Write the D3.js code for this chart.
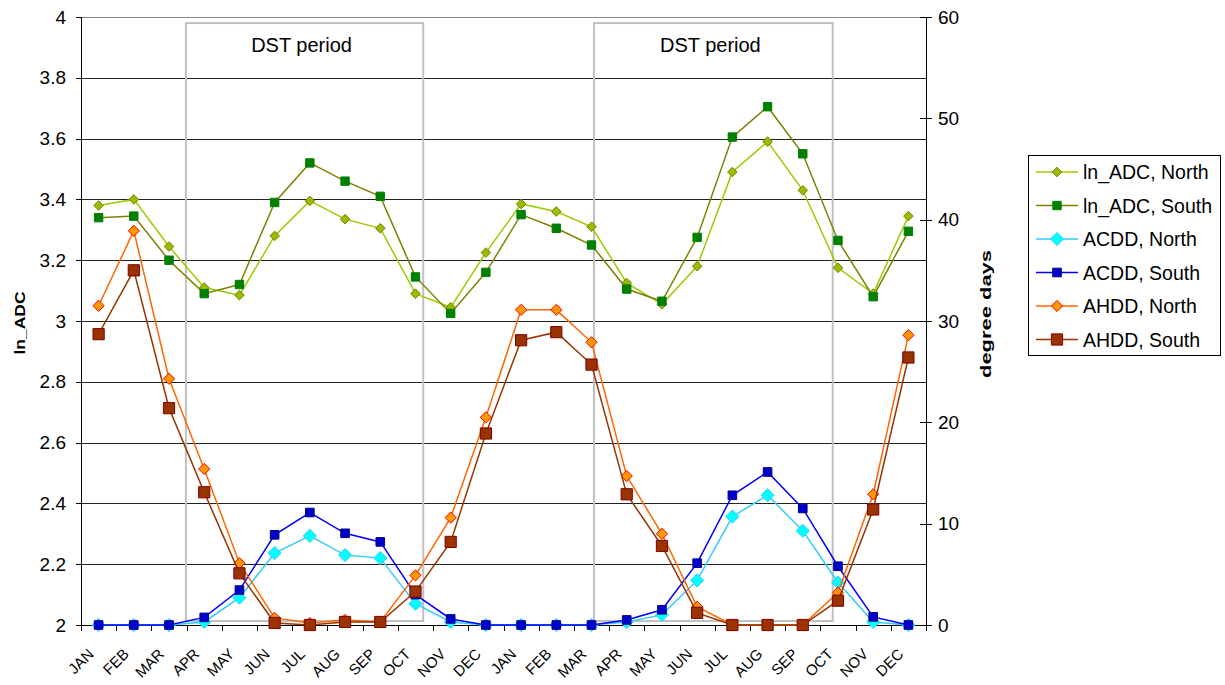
<!DOCTYPE html>
<html>
<head>
<meta charset="utf-8">
<title>ln_ADC and degree days</title>
<script src="https://cdn.jsdelivr.net/npm/d3@7"></script>
<style>
  html, body { margin: 0; padding: 0; background: #fff; }
  svg { display: block; font-family: "Liberation Sans", Arial, sans-serif; }
</style>
</head>
<body>
<div id="chart"></div>
<script>
'use strict';

// ─── Data ─────────────────────────────────────────────────────────────────────
const months = ['JAN', 'FEB', 'MAR', 'APR', 'MAY', 'JUN', 'JUL', 'AUG', 'SEP', 'OCT', 'NOV', 'DEC',
                'JAN', 'FEB', 'MAR', 'APR', 'MAY', 'JUN', 'JUL', 'AUG', 'SEP', 'OCT', 'NOV', 'DEC'];

const lnAdcNorth = [3.38, 3.40, 3.245, 3.11, 3.085, 3.28, 3.395, 3.335, 3.305, 3.09, 3.045, 3.225,
                    3.385, 3.36, 3.31, 3.125, 3.055, 3.18, 3.49, 3.59, 3.43, 3.175, 3.09, 3.345];
const lnAdcSouth = [3.34, 3.345, 3.20, 3.09, 3.12, 3.39, 3.52, 3.46, 3.41, 3.145, 3.025, 3.16,
                    3.35, 3.305, 3.25, 3.105, 3.065, 3.275, 3.605, 3.705, 3.55, 3.265, 3.08, 3.295];
const acddNorth  = [0, 0, 0, 0.3, 2.7, 7.1, 8.8, 6.9, 6.6, 2.1, 0.3, 0,
                    0, 0, 0, 0.3, 1.0, 4.4, 10.7, 12.8, 9.3, 4.2, 0.3, 0];
const acddSouth  = [0, 0, 0, 0.75, 3.45, 8.9, 11.1, 9.05, 8.2, 3.0, 0.6, 0,
                    0, 0, 0, 0.5, 1.5, 6.1, 12.8, 15.1, 11.5, 5.8, 0.8, 0];
const ahddNorth  = [31.5, 38.9, 24.3, 15.4, 6.1, 0.7, 0.2, 0.5, 0.3, 4.9, 10.6, 20.5,
                    31.1, 31.1, 27.9, 14.7, 9.0, 1.8, 0, 0, 0, 3.2, 12.9, 28.6];
const ahddSouth  = [28.7, 35.0, 21.4, 13.1, 5.1, 0.2, 0, 0.3, 0.3, 3.3, 8.2, 18.9,
                    28.1, 28.9, 25.7, 12.9, 7.8, 1.2, 0, 0, 0, 2.4, 11.4, 26.4];

const leftTicks  = [2, 2.2, 2.4, 2.6, 2.8, 3, 3.2, 3.4, 3.6, 3.8, 4];
const rightTicks = [0, 10, 20, 30, 40, 50, 60];

// DST boxes, in category units (hand-drawn shapes in the original)
const dstFrom = [2.98, 14.57];
const dstTo   = [9.72, 21.35];

// ─── Series styling ───────────────────────────────────────────────────────────
const SERIES = [
  { name: 'ln_ADC, North', values: lnAdcNorth, axis: 'L', line: '#99cc00', fill: '#99bb00', stroke: '#808000', shape: 'diamond', r: 4.8 },
  { name: 'ln_ADC, South', values: lnAdcSouth, axis: 'L', line: '#808000', fill: '#008000', stroke: '#008000', shape: 'square',  r: 4.2 },
  { name: 'ACDD, North',   values: acddNorth,  axis: 'R', line: '#33ccff', fill: '#00ffff', stroke: '#33ccff', shape: 'diamond', r: 6.6 },
  { name: 'ACDD, South',   values: acddSouth,  axis: 'R', line: '#0000ff', fill: '#0000cc', stroke: '#000080', shape: 'square',  r: 4.3 },
  { name: 'AHDD, North',   values: ahddNorth,  axis: 'R', line: '#ff6600', fill: '#ff9900', stroke: '#ff0000', shape: 'diamond', r: 5.6 },
  { name: 'AHDD, South',   values: ahddSouth,  axis: 'R', line: '#993300', fill: '#993300', stroke: '#800000', shape: 'square',  r: 5.6 },
];

// ─── Layout ───────────────────────────────────────────────────────────────────
const W = 1225, H = 685;
const PLOT = { left: 81, right: 926, top: 17, bottom: 625 };
const FONT = '"Liberation Sans", Arial, sans-serif';

const svg = d3.select('#chart').append('svg')
  .attr('width', W)
  .attr('height', H);

const idx = months.map((_, i) => i);
const x = d3.scaleBand().domain(idx).range([PLOT.left, PLOT.right]).padding(0);
const xUnit = d3.scaleLinear().domain([0, months.length]).range([PLOT.left, PLOT.right]);
const yL = d3.scaleLinear().domain([2, 4]).range([PLOT.bottom, PLOT.top]);
const yR = d3.scaleLinear().domain([0, 60]).range([PLOT.bottom, PLOT.top]);
const cx = i => x(i) + x.bandwidth() / 2;

// ── Gridlines (left-axis major ticks) ─────────────────────────────────────────
svg.append('g')
  .selectAll('line')
  .data(leftTicks)
  .join('line')
  .attr('x1', PLOT.left).attr('x2', PLOT.right)
  .attr('y1', d => Math.round(yL(d)) + 0.5).attr('y2', d => Math.round(yL(d)) + 0.5)
  .attr('stroke', d => d === 4 ? '#888' : '#222')
  .attr('stroke-width', 1);

// ── DST period boxes ──────────────────────────────────────────────────────────
const dstG = svg.append('g');
dstFrom.forEach((f, k) => {
  const x0 = xUnit(f), x1 = xUnit(dstTo[k]);
  dstG.append('rect')
    .attr('x', x0).attr('y', yL(3.98))
    .attr('width', x1 - x0).attr('height', yL(2.013) - yL(3.98))
    .attr('fill', 'none')
    .attr('stroke', '#c0c0c0')
    .attr('stroke-width', 2);
  dstG.append('text')
    .attr('x', (x0 + x1) / 2 - 3)
    .attr('y', 52)
    .attr('text-anchor', 'middle')
    .attr('font-family', FONT)
    .attr('font-size', '20px')
    .attr('fill', '#000')
    .text('DST period');
});

// ── Axes ──────────────────────────────────────────────────────────────────────
const axesG = svg.append('g').attr('shape-rendering', 'crispEdges');

// left axis
const leftAxis = axesG.append('g').attr('transform', `translate(${PLOT.left},0)`)
  .call(d3.axisLeft(yL).tickValues(leftTicks).tickSize(5).tickPadding(10)
    .tickFormat(d => d3.format('~g')(d)));
leftAxis.select('.domain').attr('stroke', '#000');
leftAxis.selectAll('.tick line').attr('stroke', '#000');
leftAxis.selectAll('.tick text')
  .attr('font-family', FONT).attr('font-size', '19px').attr('fill', '#000');

// right axis (ticks cross the line)
const rightAxis = axesG.append('g').attr('transform', `translate(${PLOT.right},0)`)
  .call(d3.axisRight(yR).tickValues(rightTicks).tickSize(6).tickPadding(6));
rightAxis.select('.domain').attr('stroke', '#000');
rightAxis.selectAll('.tick line').attr('stroke', '#000').attr('x1', -6);
rightAxis.selectAll('.tick text')
  .attr('font-family', FONT).attr('font-size', '19px').attr('fill', '#000');

// bottom category axis: ticks between categories
const bottomG = axesG.append('g');
bottomG.append('line')
  .attr('x1', PLOT.left).attr('x2', PLOT.right)
  .attr('y1', PLOT.bottom + 0.5).attr('y2', PLOT.bottom + 0.5)
  .attr('stroke', '#000');
bottomG.selectAll('line.tick')
  .data(d3.range(months.length + 1))
  .join('line')
  .attr('class', 'tick')
  .attr('x1', d => Math.round(xUnit(d)) + 0.5).attr('x2', d => Math.round(xUnit(d)) + 0.5)
  .attr('y1', PLOT.bottom).attr('y2', PLOT.bottom + 6)
  .attr('stroke', '#000');
bottomG.selectAll('text')
  .data(idx)
  .join('text')
  .attr('transform', i => `translate(${cx(i) - 4},655) rotate(-45)`)
  .attr('text-anchor', 'end')
  .attr('font-family', FONT)
  .attr('font-size', '15px')
  .attr('fill', '#000')
  .text(i => months[i]);

// axis titles
svg.append('text')
  .attr('transform', 'translate(19,323) rotate(-90)')
  .attr('text-anchor', 'middle')
  .attr('dominant-baseline', 'central')
  .attr('font-family', FONT)
  .attr('font-weight', 'bold')
  .attr('font-size', '15px')
  .attr('textLength', 63)
  .attr('lengthAdjust', 'spacingAndGlyphs')
  .text('ln_ADC');

svg.append('text')
  .attr('transform', 'translate(985,314) rotate(-90)')
  .attr('text-anchor', 'middle')
  .attr('dominant-baseline', 'central')
  .attr('font-family', FONT)
  .attr('font-weight', 'bold')
  .attr('font-size', '15px')
  .attr('textLength', 128)
  .attr('lengthAdjust', 'spacingAndGlyphs')
  .text('degree days');

// ─── Markers ──────────────────────────────────────────────────────────────────
function markerPath(shape, r) {
  if (shape === 'diamond') return `M0,${-r}L${r},0L0,${r}L${-r},0Z`;
  return `M${-r},${-r}H${r}V${r}H${-r}Z`;
}

// ── Series ────────────────────────────────────────────────────────────────────
const seriesG = svg.append('g');
SERIES.forEach(s => {
  const y = s.axis === 'L' ? yL : yR;
  const line = d3.line().x((d, i) => cx(i)).y(d => y(d));
  const g = seriesG.append('g');
  g.append('path')
    .attr('d', line(s.values))
    .attr('fill', 'none')
    .attr('stroke', s.line)
    .attr('stroke-width', 1.5);
  g.selectAll('path.mk')
    .data(s.values)
    .join('path')
    .attr('class', 'mk')
    .attr('transform', (d, i) => `translate(${cx(i)},${y(d)})`)
    .attr('d', markerPath(s.shape, s.r))
    .attr('fill', s.fill)
    .attr('stroke', s.stroke)
    .attr('stroke-width', 1);
});

// ─── Legend ───────────────────────────────────────────────────────────────────
const LEG = { x: 1028, y: 155, w: 192, h: 200, row0: 172, step: 33.5 };
const legG = svg.append('g');
legG.append('rect')
  .attr('x', LEG.x + 0.5).attr('y', LEG.y + 0.5)
  .attr('width', LEG.w).attr('height', LEG.h)
  .attr('fill', '#fff').attr('stroke', '#000').attr('stroke-width', 1);

SERIES.forEach((s, k) => {
  const yy = LEG.row0 + k * LEG.step;
  legG.append('line')
    .attr('x1', 1036).attr('x2', 1078)
    .attr('y1', yy).attr('y2', yy)
    .attr('stroke', s.line).attr('stroke-width', 1.5);
  legG.append('path')
    .attr('transform', `translate(1057,${yy})`)
    .attr('d', markerPath(s.shape, s.r))
    .attr('fill', s.fill).attr('stroke', s.stroke);
  legG.append('text')
    .attr('x', 1083).attr('y', yy)
    .attr('dy', '0.36em')
    .attr('font-family', FONT)
    .attr('font-size', '19.5px')
    .attr('fill', '#000')
    .text(s.name);
});
</script>
</body>
</html>
